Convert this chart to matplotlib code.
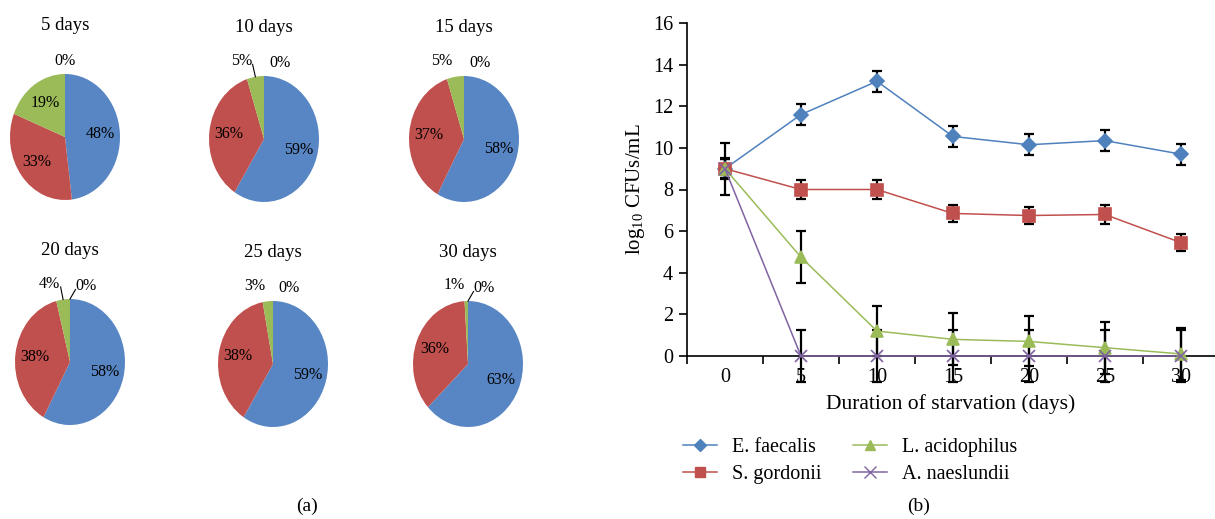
import matplotlib
matplotlib.use("Agg")
import matplotlib.pyplot as plt
from matplotlib.lines import Line2D
import numpy as np

plt.rcParams['font.family'] = ['Liberation Serif', 'DejaVu Serif']
plt.rcParams['mathtext.fontset'] = 'custom'
plt.rcParams['mathtext.rm'] = 'Liberation Serif'

# ---- data ----
days = [0, 5, 10, 15, 20, 25, 30]
species = ["E. faecalis", "S. gordonii", "L. acidophilus", "A. naeslundii"]
colors = ["#4F81BD", "#C0504D", "#9BBB59", "#8064A2"]
markers = ["D", "s", "^", "x"]
msizes = [7, 8, 8, 9]

faecalis = [9.0, 11.6, 13.2, 10.55, 10.15, 10.35, 9.7]
gordonii = [9.0, 8.0, 8.0, 6.85, 6.75, 6.8, 5.45]
acidophilus = [9.0, 4.75, 1.2, 0.8, 0.7, 0.4, 0.1]
naeslundii = [9.0, 0.0, 0.0, 0.0, 0.0, 0.0, 0.0]

faecalis_err = [1.25, 0.5, 0.5, 0.5, 0.5, 0.5, 0.5]
gordonii_err = [0.5, 0.45, 0.45, 0.42, 0.4, 0.45, 0.4]
acidophilus_err = [0.45, 1.25, 1.2, 1.25, 1.2, 1.25, 1.25]
naeslundii_err = [0.45, 1.25, 1.25, 1.25, 1.25, 1.25, 1.25]

pie_titles = ["5 days", "10 days", "15 days", "20 days", "25 days", "30 days"]
pie_pct = [[48, 33, 19, 0],
           [59, 36, 5, 0],
           [58, 37, 5, 0],
           [58, 38, 4, 0],
           [59, 38, 3, 0],
           [63, 36, 1, 0]]
leader = [False, True, False, True, False, True]

W, H = 1215, 519
fig = plt.figure(figsize=(W / 100, H / 100), dpi=100)

# pie layout (pixel centres, half width / half height)
centres = [(65, 137), (264, 139), (464, 139), (70, 362), (273, 364), (468, 364)]
rx, ry = 55, 63
pie_cols = ["#5886C4", "#C0504D", "#9BBB59", "#8064A2"]

for i, (cx, cy) in enumerate(centres):
    ax = fig.add_axes([(cx - rx) / W, 1 - (cy + ry) / H, 2 * rx / W, 2 * ry / H])
    vals = pie_pct[i]
    wedges, _ = ax.pie([max(v, 0.001) for v in vals], colors=pie_cols, startangle=90,
                       counterclock=False, wedgeprops=dict(linewidth=0))
    ax.set_aspect('auto')
    ax.set_xlim(-1, 1)
    ax.set_ylim(-1, 1)
    ax.set_title(pie_titles[i], fontsize=13.5, pad=32)
    small = vals[2] < 10
    for j, w in enumerate(wedges):
        ang = np.deg2rad((w.theta1 + w.theta2) / 2)
        if vals[j] >= 10:
            r = 0.65
            x, y = r * np.cos(ang), r * np.sin(ang)
        else:
            r = 1.2
            x, y = r * np.cos(ang), r * np.sin(ang)
            if small:
                if j == 2:
                    x -= 0.22
                    y += 0.05
                else:
                    x += 0.3
        ax.text(x, y, f"{vals[j]}%", ha='center', va='center', fontsize=11.5,
                clip_on=False)
        if leader[i] and vals[j] < 10:
            show = (i == 3) or (i == 1 and j == 2) or (i == 5 and j == 3)
            if show:
                ex, ey = 1.0 * np.cos(ang), 1.0 * np.sin(ang)
                ax.plot([ex, x + (0.2 if j == 2 else -0.2)], [ey, y - 0.05],
                        color='black', lw=0.8, clip_on=False)

fig.text(307 / W, 1 - 506 / H, "(a)", ha='center', va='center', fontsize=14)
fig.text(919 / W, 1 - 506 / H, "(b)", ha='center', va='center', fontsize=14)

# ---- line chart ----
axl = fig.add_axes([687 / W, 1 - 356 / H, (1215 - 687) / W, (356 - 23) / H])
x = np.arange(len(days))
series = [faecalis, gordonii, acidophilus, naeslundii]
errs = [faecalis_err, gordonii_err, acidophilus_err, naeslundii_err]
for k in range(4):
    axl.errorbar(x, series[k], yerr=errs[k], fmt='none', ecolor='black',
                 elinewidth=1.6, capsize=3.5, capthick=1.6, clip_on=False, zorder=2)
for k in range(4):
    axl.plot(x, series[k], color=colors[k], marker=markers[k], ms=msizes[k],
             mec=colors[k], mew=1.2, lw=1.1, clip_on=False, zorder=3)

axl.set_xlim(-0.5, 6.45)
axl.set_ylim(0, 16)
axl.set_yticks(range(0, 17, 2))
axl.set_xticks(x)
axl.set_xticklabels([str(d) for d in days])
axl.set_xticks(np.arange(-0.5, 6.5, 1), minor=True)
axl.tick_params(axis='x', which='major', length=0, labelsize=14.5, pad=9)
axl.tick_params(axis='x', which='minor', length=6, width=1.2, direction='out')
axl.tick_params(axis='y', length=6, width=1.2, direction='out', labelsize=14.5, pad=4)
for s in ['top', 'right']:
    axl.spines[s].set_visible(False)
for s in ['left', 'bottom']:
    axl.spines[s].set_linewidth(1.2)
axl.set_xlabel("Duration of starvation (days)", fontsize=15.5, labelpad=5)
axl.set_ylabel("log$_{10}$ CFUs/mL", fontsize=15, labelpad=4)

handles = [Line2D([], [], color=colors[k], marker=markers[k], ms=msizes[k] - 1,
                  mec=colors[k], lw=1.1) for k in range(4)]
fig.legend(handles, species, loc='center', bbox_to_anchor=(850 / W, 1 - 461 / H),
           ncol=2, frameon=False, fontsize=14.5, handlelength=1.7, handletextpad=0.7,
           columnspacing=1.6, labelspacing=0.4)

fig.savefig("out.png", dpi=100)
